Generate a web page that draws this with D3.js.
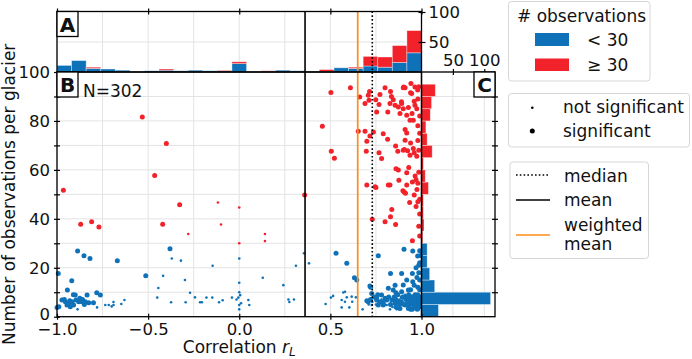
<!DOCTYPE html>
<html><head><meta charset="utf-8">
<script src="https://cdn.jsdelivr.net/npm/d3@7"></script>
<style>body{margin:0;background:#fff} text{font-family:"DejaVu Sans",sans-serif;fill:#111}</style>
</head><body><svg id="c" width="692" height="359"></svg>
<script>
// ---------------- DATA ----------------
// histogram of correlation (25 bins from -1 to 1, width 0.08)
const histRBlue = [11,19,6,5,3,0,2,3,2,3,2,2,14,0,1,3,2,1,1,7,6,10,8,16,32];
const histRRed  = [0,0,2,0,0,0,0,2,0,0,0,1,3,0,1,0,0,0,3,0,2,16,17,28,37];
// histogram of number of observations (20 bins from 0 to 100, width 5)
const histNBlue = [27,110,21,13,9,9,0,0,0,0,0,0,0,0,0,0,0,0,0,0];
const histNRed  = [0,0,0,0,0,0,2,4,3,3,11,6,3,17,9,7,14,16,22,0];
// summary statistics of r
const medianR = 0.73, meanR = 0.361, wmeanR = 0.65;
// tick labels
const xTickLabels = [-1.0,-0.5,0.0,0.5,1.0];
const yTickLabels = [0,20,40,60,80,100];
const aTickLabels = [50,100];
const cTickLabels = [50,100];
// glaciers: [r, number of observations, significant]
const glaciers = [
// red, left
[-0.965,51.7,1],[-0.532,81.6,1],[-0.40,70.8,1],[-0.464,57.7,1],[-0.327,45.7,1],[-0.117,46.7,0],[-0.10,37.7,0],
[-0.87,37.8,1],[-0.81,38.8,1],[-0.77,36.7,1],[-0.42,37.8,1],[-0.28,33.8,0],[0.0,44.6,0],[0.0,30.0,0],
[0.141,33.8,0],[0.141,30.9,0],[0.359,49.7,1],
// red, right
[0.503,91.6,1],[0.61,93.6,1],[0.456,77.8,1],[0.505,67.6,1],[0.522,64.8,1],[0.653,75.8,1],[0.661,89.8,1],
[0.69,75.8,1],[0.70,71.7,1],[0.697,67.6,1],[0.70,53.8,1],[0.69,87.1,1],[0.708,90.5,1],[0.715,92,1],
[0.712,88.5,1],[0.736,75.5,1],[0.717,73.8,1],[0.749,88.7,1],[0.754,83.7,1],[0.767,86.7,1],[0.772,90.8,1],
[0.80,93.6,1],[0.83,92,1],[0.835,90,1],[0.845,88.7,1],[0.827,87.1,1],[0.855,86.4,1],[0.873,85.7,1],
[0.891,87.1,1],[0.90,85,1],[0.815,83.7,1],[0.882,83,1],[0.919,82.3,1],[0.937,80.3,1],[0.955,80.3,1],
[0.928,85.5,1],[0.964,86.4,1],[0.974,85,1],[0.89,87.8,1],[0.90,93.6,1],[0.91,93.6,1],[0.94,91.5,1],
[0.942,95.3,1],[0.964,93.9,1],[0.979,92.6,1],[0.946,91.2,1],[0.902,93.9,1],[0.948,83,1],[0.96,88,1],
[0.98,89,1],[0.985,94,1],[0.98,78,1],[0.99,82,1],
[0.767,67,1],[0.781,64.6,1],[0.79,74.8,1],[0.814,72.5,1],[0.858,69.8,1],[0.87,67.6,1],[0.90,68,1],
[0.91,76.5,1],[0.919,75.1,1],[0.91,72.1,1],[0.94,71,1],[0.906,68.3,1],[0.924,67.8,1],[0.955,68.7,1],
[0.937,66,1],[0.974,65.6,1],[0.96,67,1],[0.98,72,1],[0.985,68,1],[0.99,75,1],
[0.873,59.9,1],[0.876,55.8,1],[0.919,58.8,1],[0.965,57.5,1],[0.97,56,1],[0.827,53.8,1],[0.919,53.8,1],
[0.898,51.5,1],[0.905,51,1],[0.912,50.5,1],[0.96,49.7,1],[0.98,54.5,1],[0.985,59,1],[0.935,46.7,1],
[0.745,53.1,1],[0.75,52.8,1],[0.818,53.8,1],[0.86,60.5,1],[0.93,61,1],[0.95,55,1],[0.975,52,1],
[0.837,43.8,1],[0.83,40.8,1],[0.80,38.8,1],[0.858,37.7,1],[0.73,39.8,1],[0.99,33,1],[0.985,37,1],
[0.99,42,1],[0.97,45,1],[0.95,31,1],[0.98,47,1],[0.99,48,1],
// blue, left
[-0.993,17.7,1],[-1.0,3.8,1],[-0.887,26.8,1],[-0.852,24.9,1],[-0.819,23.8,1],[-0.669,22.9,1],[-0.919,14.7,1],
[-0.943,10.9,1],[-0.782,9.8,1],[-0.762,8.9,1],[-0.973,6.8,1],[-0.954,6.1,1],[-0.936,5.5,1],[-0.918,6.1,1],
[-0.90,8.9,1],[-0.896,6.8,1],[-0.881,6.1,1],[-0.863,6.1,1],[-0.845,6.1,1],[-0.835,8.9,1],[-0.826,5.7,1],
[-0.80,5.7,1],[-0.909,4.8,1],[-0.945,4.8,1],[-0.927,4.1,1],[-0.99,4.1,1],[-0.96,7,1],[-0.93,6.5,1],
[-0.875,7.5,1],[-0.85,5,1],[-0.91,9,1],[-0.94,5,1],[-0.86,7,1],
[-0.887,3,0],[-0.78,3.8,0],[-0.735,4.8,0],[-0.716,4.8,0],[-0.69,4.8,0],[-0.69,6,0],[-0.647,5.2,0],
[-0.63,6.8,0],[-0.70,4.2,0],
[-0.38,27.8,1],[-0.37,23.8,0],[-0.32,22.9,0],[-0.513,16.7,1],[-0.418,16.7,0],[-0.444,11.7,0],[-0.45,7.8,0],
[-0.374,5.9,0],[-0.298,15,0],[-0.27,9.8,0],[-0.294,5.9,0],[-0.243,7.9,0],[-0.215,5.9,0],[-0.205,5.9,0],
[-0.18,7.8,0],[-0.148,7.8,0],[-0.146,20.8,0],[-0.111,5.9,0],[-0.091,6.7,0],
[0.0,23.8,0],[0.0,13.9,0],[0.0,10,0],[0.005,8.8,0],[-0.005,7.8,0],[-0.04,7.8,0],[-0.015,7,0],
[0.01,5.5,0],[0.0,4.8,0],[0.0,3,0],[0.05,6.8,0],[0.055,4.8,0],
[0.129,15.9,0],[0.242,12.9,0],[0.27,7,0],[0.275,6,0],[0.30,7,0],[0.311,20.8,0],[0.355,25.9,0],[0.383,21.8,0],
// blue, right
[0.531,25.9,1],[0.59,21.8,1],[0.632,15.9,1],[0.645,15,1],[0.763,24.9,1],[0.904,27.6,1],[0.952,26.8,1],
[0.979,24.8,1],[0.83,17.7,1],[0.891,17.7,1],[0.95,17.7,1],[0.919,15,1],[0.952,14.3,1],[0.96,12.9,1],
[0.721,12,1],[0.727,9.5,1],[0.818,11.6,1],[0.845,10.9,1],[0.855,12.9,1],[0.86,9.8,1],[0.717,12.5,1],
[0.98,12,1],[0.99,15,1],[0.985,18,1],[0.99,11,1],[0.94,11,1],[0.90,13,1],[0.97,20,1],[0.99,22,1],
[0.975,16,1],[0.99,27,1],[0.985,21,1],[0.995,25,1],
[0.474,5.2,0],[0.503,7.8,0],[0.562,6.8,0],[0.58,10.2,0],[0.59,7.9,0],[0.617,8.2,0],[0.58,6.1,0],
[0.562,3.8,0],[0.604,3.8,0],[0.64,7.9,0],[0.677,3,0],[0.515,8.5,0],[0.571,9.9,0],[0.62,6.1,0],[0.727,4.8,0],
[0.70,6.5,1],[0.708,6.1,1],[0.754,6.8,1],[0.781,8.9,1],[0.80,7.5,1],[0.809,6.8,1],[0.837,6.8,1],
[0.855,5.5,1],[0.873,6.1,1],[0.895,7.9,1],[0.919,8,1],[0.937,6.8,1],[0.955,5.5,1],[0.974,4.8,1],
[0.91,4.8,1],[0.882,3.4,1],[0.928,3.4,1],[0.95,3,1],[0.977,3,1],[0.827,3,0],[0.864,3,0],[0.763,4.8,1],
[0.79,4.8,1],[0.891,10.2,1],[0.928,10.9,1],[0.955,8.2,1],[0.974,8.4,1],[0.983,6.8,1],[0.989,4.1,1],
[0.72,7,1],[0.74,8,1],[0.76,9,1],[0.77,6,1],[0.79,6,1],[0.82,8,1],[0.83,5,1],[0.85,8,1],[0.86,7,1],
[0.87,9,1],[0.88,5,1],[0.89,6,1],[0.90,8,1],[0.905,5,1],[0.915,7,1],[0.925,6,1],[0.93,9,1],[0.94,5,1],
[0.945,8,1],[0.95,7,1],[0.96,6,1],[0.965,9,1],[0.97,7,1],[0.975,6,1],[0.98,9,1],[0.985,5,1],[0.99,7,1],
[0.995,8,1],[0.99,6,1],[0.96,4,1],[0.94,3,1],[0.92,5,1],[0.86,4,1],[0.754,7.5,1],
[0.84,4,0],[0.80,5,0],[0.78,7,0],[0.75,5,0],[0.73,6,0],[0.71,5,0],[0.88,7,0],[0.91,9,0],[0.94,7,0],
[0.97,5,0],[0.93,4,0],[0.985,3,0],[0.965,8,0],[0.85,6,0],[0.809,4.8,0]
];

// ---------------- LAYOUT ----------------
const BLUE = "#0f72b8", RED = "#f2222a", ORANGE = "#ff8c1a", GRID = "#e3e3e3";
const bx0 = 57, bx1 = 421.5, by0 = 72, by1 = 316.7, ayTop = 11.5, cx1 = 495;
const svg = d3.select("#c");
const x  = d3.scaleLinear().domain([-1, 1]).range([bx0, bx1]);
const y  = d3.scaleLinear().domain([0, 100]).range([by1, by0]);
const yA = d3.scaleLinear().domain([0, 100]).range([by0, 12]);
const xC = d3.scaleLinear().domain([0, 117]).range([bx1, cx1]);

const grid = svg.append("g").attr("stroke", GRID).attr("stroke-width", 1);
const xGrid = d3.range(-1, 1.001, 0.25);
xGrid.forEach(v => {
  grid.append("line").attr("x1", x(v)).attr("x2", x(v)).attr("y1", ayTop).attr("y2", by1);
});
y.ticks(10).forEach(v => {
  grid.append("line").attr("x1", bx0).attr("x2", cx1).attr("y1", y(v)).attr("y2", y(v));
});
[50].forEach(v => grid.append("line").attr("x1", bx0).attr("x2", bx1).attr("y1", yA(v)).attr("y2", yA(v)));
cTickLabels.forEach(v => grid.append("line").attr("x1", xC(v)).attr("x2", xC(v)).attr("y1", by0).attr("y2", by1));

// A histogram (stacked)
const gA = svg.append("g").attr("stroke", "#fff").attr("stroke-opacity", 0.45).attr("stroke-width", 0.8);
histRBlue.forEach((b, i) => {
  const r0 = -1 + i * 0.08, r1 = r0 + 0.08, rd = histRRed[i];
  if (b > 0) gA.append("rect").attr("x", x(r0)).attr("width", x(r1) - x(r0))
    .attr("y", yA(b)).attr("height", yA(0) - yA(b)).attr("fill", BLUE);
  if (rd > 0) gA.append("rect").attr("x", x(r0)).attr("width", x(r1) - x(r0))
    .attr("y", yA(b + rd)).attr("height", yA(b) - yA(b + rd)).attr("fill", RED);
});
// C histogram (stacked horizontally)
const gC = svg.append("g").attr("stroke", "#fff").attr("stroke-opacity", 0.45).attr("stroke-width", 0.8);
histNBlue.forEach((b, i) => {
  const n0 = i * 5, n1 = n0 + 5, rd = histNRed[i];
  if (b > 0) gC.append("rect").attr("y", y(n1)).attr("height", y(n0) - y(n1))
    .attr("x", xC(0)).attr("width", xC(b) - xC(0)).attr("fill", BLUE);
  if (rd > 0) gC.append("rect").attr("y", y(n1)).attr("height", y(n0) - y(n1))
    .attr("x", xC(b)).attr("width", xC(b + rd) - xC(b)).attr("fill", RED);
});

// scatter
svg.append("g").selectAll("circle").data(glaciers).join("circle")
  .attr("cx", d => x(d[0])).attr("cy", d => y(d[1]))
  .attr("r", d => d[2] ? 2.5 : 1.3)
  .attr("fill", d => d[1] >= 30 ? RED : BLUE);

// vertical statistic lines (through A and B)
svg.append("line").attr("x1", x(meanR)).attr("x2", x(meanR)).attr("y1", ayTop).attr("y2", by1)
  .attr("stroke", "#000").attr("stroke-width", 1.6);
svg.append("line").attr("x1", x(wmeanR)).attr("x2", x(wmeanR)).attr("y1", ayTop).attr("y2", by1)
  .attr("stroke", ORANGE).attr("stroke-width", 1.7);
svg.append("line").attr("x1", x(medianR)).attr("x2", x(medianR)).attr("y1", ayTop).attr("y2", by1)
  .attr("stroke", "#000").attr("stroke-width", 1.6).attr("stroke-dasharray", "1.6,2.2");

// frames
const frames = svg.append("g").attr("fill", "none").attr("stroke", "#000").attr("stroke-width", 1.3);
frames.append("rect").attr("x", bx0).attr("y", ayTop).attr("width", bx1 - bx0).attr("height", by0 - ayTop);
frames.append("rect").attr("x", bx0).attr("y", by0).attr("width", bx1 - bx0).attr("height", by1 - by0);
frames.append("rect").attr("x", bx1).attr("y", by0).attr("width", cx1 - bx1).attr("height", by1 - by0);

// axes
function styleAxis(g) {
  g.select(".domain").remove();
  g.selectAll(".tick line").attr("stroke", "#000").attr("stroke-width", 1.2);
  g.selectAll(".tick text").attr("font-size", 16.5).attr("fill", "#111")
   .style("font-family", '"DejaVu Sans",sans-serif');
}
// left axis of B
const gl = svg.append("g").attr("transform", `translate(${bx0},0)`)
  .call(d3.axisLeft(y).tickValues(y.ticks(10)).tickSize(3).tickPadding(4)
    .tickFormat(d => yTickLabels.includes(d) ? d : ""));
styleAxis(gl); gl.selectAll(".tick line").attr("x1", 3);
gl.selectAll(".tick text").attr("dy", d => d === 0 ? "0.15em" : "0.32em");
// bottom axis of B
const gb = svg.append("g").attr("transform", `translate(0,${by1})`)
  .call(d3.axisBottom(x).tickValues(xTickLabels).tickSize(3).tickPadding(4)
    .tickFormat(d => d3.format(".1f")(d).replace("-", "\u2212")));
styleAxis(gb); gb.selectAll(".tick line").attr("y1", -3);
// top ticks of A
const gt = svg.append("g").attr("transform", `translate(0,${ayTop})`)
  .call(d3.axisTop(x).tickValues(xTickLabels).tickSize(3).tickFormat(""));
styleAxis(gt); gt.selectAll(".tick line").attr("y1", 3);
// right axis of A
const gar = svg.append("g").attr("transform", `translate(${bx1},0)`)
  .call(d3.axisRight(yA).tickValues(aTickLabels).tickSize(4).tickPadding(3));
styleAxis(gar); gar.selectAll(".tick line").attr("x1", -3);
// top axis of C
const gct = svg.append("g").attr("transform", `translate(0,${by0})`)
  .call(d3.axisTop(xC).tickValues(cTickLabels).tickSize(3).tickPadding(3));
styleAxis(gct); gct.selectAll(".tick line").attr("y1", 3);
// right ticks of C
const gcr = svg.append("g").attr("transform", `translate(${cx1},0)`)
  .call(d3.axisRight(y).tickValues(y.ticks(10).filter(v => v > 0 && v < 100)).tickSize(3).tickFormat(""));
styleAxis(gcr); gcr.selectAll(".tick line").attr("x1", -3);

// panel letters
function panelLabel(px, py, t) {
  svg.append("rect").attr("x", px).attr("y", py).attr("width", 21).attr("height", 25)
    .attr("fill", "#fff").attr("stroke", "#000").attr("stroke-width", 1.3);
  svg.append("text").attr("x", px + 10.5).attr("y", py + 20).attr("text-anchor", "middle")
    .attr("font-size", 20).attr("font-weight", "bold").text(t);
}
panelLabel(bx0, ayTop, "A");
panelLabel(bx0, by0, "B");
panelLabel(cx1 - 21, by0, "C");
svg.append("text").attr("x", 83).attr("y", 96.5).attr("font-size", 17).text("N=302");

// axis labels
const xl = svg.append("text").attr("x", (bx0 + bx1) / 2).attr("y", 353).attr("text-anchor", "middle").attr("font-size", 17);
xl.append("tspan").text("Correlation ");
xl.append("tspan").attr("font-style", "italic").text("r");
xl.append("tspan").attr("font-style", "italic").attr("font-size", 12).attr("dy", 2.5).text("L");
svg.append("text").attr("transform", `translate(15,${(by0 + by1) / 2}) rotate(-90)`)
  .attr("text-anchor", "middle").attr("font-size", 17).text("Number of observations per glacier");

// legends
const lg = svg.append("g");
function box(x0, y0, w, h) {
  lg.append("rect").attr("x", x0).attr("y", y0).attr("width", w).attr("height", h).attr("rx", 3)
    .attr("fill", "#fff").attr("fill-opacity", 0.85).attr("stroke", "#d6d6d6").attr("stroke-width", 1);
}
box(508.5, 1.5, 141.5, 79.5);
lg.append("text").attr("x", 517).attr("y", 22).attr("font-size", 17).text("# observations");
lg.append("rect").attr("x", 535).attr("y", 33).attr("width", 34).attr("height", 13).attr("fill", BLUE);
lg.append("rect").attr("x", 535).attr("y", 58.5).attr("width", 34).attr("height", 12.5).attr("fill", RED);
lg.append("text").attr("x", 587).attr("y", 46).attr("font-size", 17).text("< 30");
lg.append("text").attr("x", 587).attr("y", 71).attr("font-size", 17).text("\u2265 30");

box(508.5, 93.5, 181, 53.5);
lg.append("circle").attr("cx", 532.3).attr("cy", 107.7).attr("r", 1.3).attr("fill", "#000");
lg.append("circle").attr("cx", 532.3).attr("cy", 131).attr("r", 2.5).attr("fill", "#000");
lg.append("text").attr("x", 563).attr("y", 113).attr("font-size", 17).text("not significant");
lg.append("text").attr("x", 563).attr("y", 137).attr("font-size", 17).text("significant");

box(510, 162, 138.5, 96.5);
lg.append("line").attr("x1", 516).attr("x2", 550).attr("y1", 175).attr("y2", 175)
  .attr("stroke", "#000").attr("stroke-width", 1.6).attr("stroke-dasharray", "1.6,2.2");
lg.append("line").attr("x1", 516).attr("x2", 550).attr("y1", 200).attr("y2", 200)
  .attr("stroke", "#000").attr("stroke-width", 1.6);
lg.append("line").attr("x1", 516).attr("x2", 550).attr("y1", 235).attr("y2", 235)
  .attr("stroke", ORANGE).attr("stroke-width", 1.7);
lg.append("text").attr("x", 564).attr("y", 181.5).attr("font-size", 17).text("median");
lg.append("text").attr("x", 564).attr("y", 206).attr("font-size", 17).text("mean");
lg.append("text").attr("x", 564).attr("y", 231).attr("font-size", 17).text("weighted");
lg.append("text").attr("x", 564).attr("y", 249.5).attr("font-size", 17).text("mean");
</script></body></html>
